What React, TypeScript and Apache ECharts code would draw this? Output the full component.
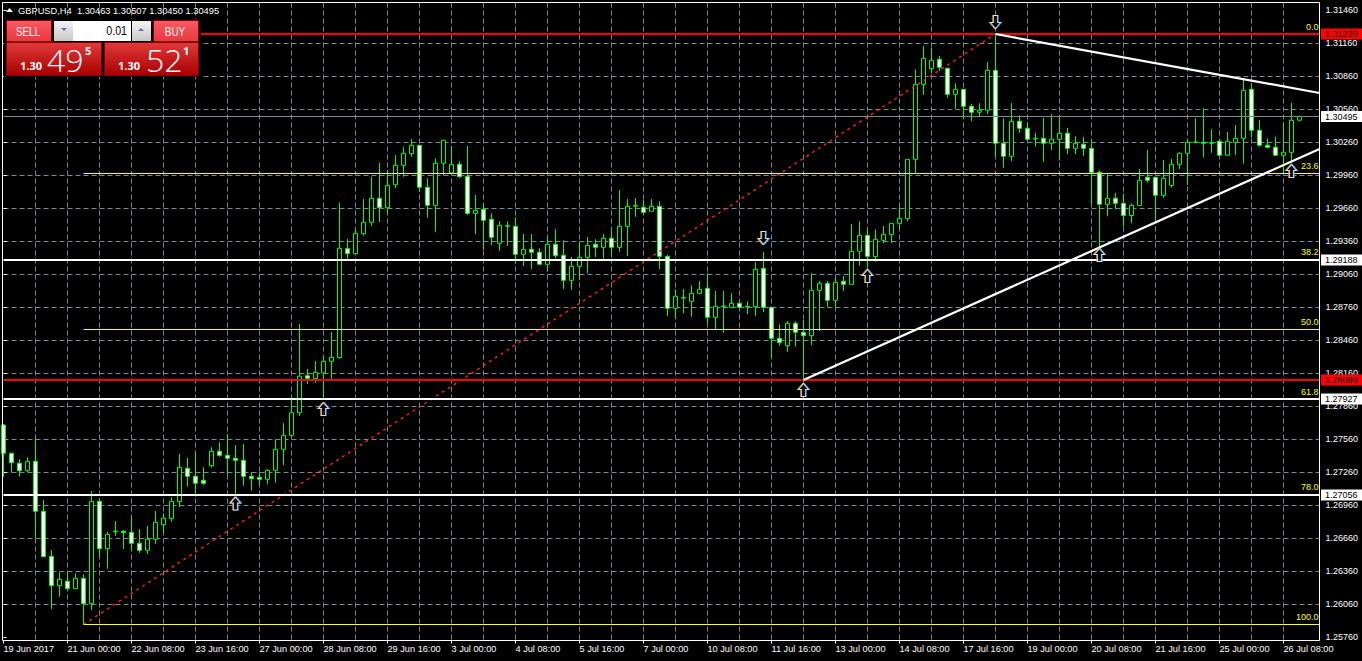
import React, { useEffect, useRef } from "react";
import * as echarts from "echarts";

// H4 candles, GBPUSD, oldest first
const opens = [
  1.27692,1.27435,1.27344,1.27276,1.27362,1.26907,1.26498,1.26231,1.26271,1.26204,
  1.26298,1.26067,1.26998,1.26567,1.26722,1.26725,1.26716,1.26616,1.26553,1.26653,
  1.26785,1.26840,1.26995,1.27298,1.27225,1.27189,1.27322,1.27453,1.27416,1.27389,
  1.27371,1.27225,1.27216,1.27198,1.27280,1.27471,1.27598,1.27804,1.28140,1.28113,
  1.28165,1.28271,1.28304,1.29295,1.29249,1.29431,1.29535,1.29753,1.29667,1.29876,
  1.30053,1.30158,1.30235,1.29853,1.29689,1.30071,1.29983,1.30062,1.29953,1.29616,
  1.29653,1.29562,1.29344,1.29498,1.29498,1.29244,1.29289,1.29262,1.29153,1.29335,
  1.29235,1.29007,1.29135,1.29216,1.29335,1.29307,1.29389,1.29307,1.29498,1.29682,
  1.29671,1.29635,1.29680,1.29225,1.28753,1.28846,1.28816,1.28889,1.28935,1.28671,
  1.28768,1.28762,1.28798,1.28764,1.28767,1.29116,1.28762,1.28480,1.28413,1.28616,
  1.28535,1.28504,1.28916,1.28980,1.28825,1.28998,1.28971,1.29271,1.29416,1.29222,
  1.29371,1.29425,1.29525,1.29567,1.30107,1.30789,1.30931,1.31016,1.30935,1.30698,
  1.30744,1.30589,1.30535,1.30553,1.30916,1.30253,1.30135,1.30453,1.30389,1.30292,
  1.30298,1.30253,1.30289,1.30344,1.30207,1.30244,1.30207,1.29989,1.29698,1.29753,
  1.29707,1.29596,1.29687,1.29944,1.29944,1.29780,1.29871,1.30062,1.30162,1.30259,
  1.30262,1.30252,1.30271,1.30144,1.30262,1.30298,1.30744,1.30371,1.30235,1.30216,
  1.30144,1.30171,1.30463,
];
const closes = [
  1.27435,1.27349,1.27276,1.27362,1.26907,1.26495,1.26231,1.26289,1.26204,1.26298,
  1.26067,1.26998,1.26567,1.26698,1.26728,1.26713,1.26616,1.26553,1.26653,1.26807,
  1.26844,1.26998,1.27307,1.27225,1.27162,1.27162,1.27453,1.27416,1.27389,1.27371,
  1.27225,1.27204,1.27198,1.27280,1.27471,1.27598,1.27804,1.28135,1.28116,1.28171,
  1.28271,1.28307,1.29298,1.29249,1.29435,1.29535,1.29753,1.29667,1.29871,1.30053,
  1.30162,1.30235,1.29853,1.29689,1.30071,1.30280,1.30062,1.29949,1.29616,1.29644,
  1.29553,1.29398,1.29507,1.29504,1.29244,1.29289,1.29262,1.29153,1.29335,1.29231,
  1.29007,1.29135,1.29216,1.29325,1.29307,1.29389,1.29307,1.29498,1.29680,1.29688,
  1.29625,1.29680,1.29225,1.28753,1.28862,1.28852,1.28889,1.28925,1.28671,1.28771,
  1.28774,1.28798,1.28762,1.28770,1.29107,1.28762,1.28480,1.28440,1.28616,1.28535,
  1.28504,1.28916,1.28980,1.28825,1.28989,1.28971,1.29271,1.29416,1.29225,1.29380,
  1.29425,1.29525,1.29571,1.30107,1.30789,1.31025,1.31007,1.30944,1.30698,1.30744,
  1.30589,1.30535,1.30553,1.30916,1.30253,1.30135,1.30453,1.30389,1.30289,1.30298,
  1.30253,1.30289,1.30344,1.30207,1.30253,1.30207,1.29989,1.29698,1.29753,1.29707,
  1.29596,1.29689,1.29916,1.29916,1.29780,1.29935,1.30062,1.30162,1.30262,1.30265,
  1.30253,1.30258,1.30144,1.30271,1.30298,1.30735,1.30371,1.30235,1.30216,1.30144,
  1.30171,1.30462,1.30495,
];
const lows = [
  1.27219,1.27258,1.27222,1.27265,1.26662,1.26489,1.26019,1.26131,1.26201,1.26201,
  1.25876,1.26010,1.26495,1.26385,1.26683,1.26565,1.26546,1.26531,1.26519,1.26610,
  1.26707,1.26813,1.26944,1.27131,1.27040,1.27146,1.27304,1.27404,1.27244,1.27065,
  1.27140,1.27095,1.27153,1.27153,1.27167,1.27328,1.27592,1.27774,1.28065,1.28076,
  1.27919,1.28110,1.28292,1.29201,1.29246,1.29413,1.29501,1.29537,1.29610,1.29846,
  1.29949,1.30131,1.29810,1.29576,1.29449,1.29962,1.29983,1.29940,1.29601,1.29428,
  1.29283,1.29328,1.29274,1.29319,1.29162,1.29137,1.29110,1.29146,1.29089,1.29207,
  1.28928,1.28919,1.29010,1.29071,1.29216,1.29198,1.29216,1.29267,1.29228,1.29585,
  1.29604,1.29635,1.29110,1.28683,1.28655,1.28707,1.28676,1.28880,1.28616,1.28562,
  1.28531,1.28762,1.28762,1.28701,1.28683,1.28719,1.28295,1.28413,1.28358,1.28404,
  1.28101,1.28419,1.28546,1.28762,1.28762,1.28910,1.28971,1.29140,1.29116,1.29176,
  1.29344,1.29344,1.29471,1.29546,1.29980,1.30692,1.30889,1.30910,1.30667,1.30565,
  1.30480,1.30455,1.30495,1.30519,1.30137,1.30031,1.30092,1.30349,1.30289,1.30222,
  1.30085,1.30192,1.30098,1.30155,1.30155,1.30137,1.29701,1.29301,1.29592,1.29655,
  1.29498,1.29525,1.29687,1.29895,1.29555,1.29758,1.29849,1.30019,1.29874,1.30262,
  1.30122,1.30167,1.30137,1.30144,1.30144,1.30067,1.30304,1.30222,1.30207,1.30137,
  1.29980,1.30071,1.30450,
];
const highs = [
  1.27701,1.27437,1.27380,1.27398,1.27571,1.27010,1.26555,1.26358,1.26353,1.26344,
  1.26335,1.27092,1.27025,1.26719,1.26819,1.26737,1.26865,1.26746,1.26774,1.26910,
  1.26889,1.27035,1.27428,1.27392,1.27444,1.27307,1.27489,1.27535,1.27607,1.27510,
  1.27519,1.27262,1.27262,1.27289,1.27562,1.27707,1.27949,1.28610,1.28201,1.28274,
  1.28316,1.28537,1.29716,1.29383,1.29465,1.29746,1.29949,1.30074,1.30010,1.30146,
  1.30222,1.30292,1.30237,1.29935,1.30116,1.30283,1.30228,1.30089,1.30228,1.29783,
  1.29701,1.29616,1.29546,1.29546,1.29580,1.29428,1.29428,1.29298,1.29398,1.29474,
  1.29371,1.29219,1.29358,1.29401,1.29380,1.29428,1.29465,1.29828,1.29746,1.29755,
  1.29737,1.29746,1.29725,1.29237,1.28925,1.28928,1.28962,1.29001,1.29071,1.28910,
  1.28910,1.28892,1.28810,1.28816,1.29171,1.29265,1.28762,1.28607,1.28637,1.28635,
  1.28646,1.29071,1.29001,1.29001,1.29025,1.29046,1.29519,1.29544,1.29480,1.29471,
  1.29501,1.29525,1.29671,1.30107,1.30925,1.31137,1.31119,1.31046,1.30937,1.30798,
  1.30746,1.30610,1.30616,1.30992,1.31239,1.30480,1.30619,1.30507,1.30444,1.30349,
  1.30483,1.30519,1.30498,1.30392,1.30316,1.30310,1.30289,1.30007,1.29980,1.29801,
  1.29796,1.29705,1.30019,1.30192,1.29944,1.30101,1.30110,1.30171,1.30289,1.30480,
  1.30571,1.30380,1.30283,1.30355,1.30419,1.30828,1.30783,1.30465,1.30298,1.30313,
  1.30444,1.30619,1.30507,
];

const xLabels = [
  "19 Jun 2017","21 Jun 00:00","22 Jun 08:00","23 Jun 16:00","27 Jun 00:00","28 Jun 08:00","29 Jun 16:00",
  "3 Jul 00:00","4 Jul 08:00","5 Jul 16:00","7 Jul 00:00","10 Jul 08:00","11 Jul 16:00","13 Jul 00:00",
  "14 Jul 08:00","17 Jul 16:00","19 Jul 00:00","20 Jul 08:00","21 Jul 16:00","25 Jul 00:00","26 Jul 08:00",
];
const xLabelPositions = xLabels.map((_, i) => i * 8);
const xGridPositions = Array.from({ length: 42 }, (_, i) => i * 4);

const yTicks = [
  1.2576,1.2606,1.2636,1.2666,1.2696,1.2726,1.2756,1.2786,1.2816,1.2846,
  1.2876,1.2906,1.2936,1.2966,1.2996,1.3026,1.3056,1.3086,1.3116,1.3146,
];

const upArrows = [[29,1.26978],[40,1.27837],[100,1.2801],[108,1.29046],[137,1.29237],[161,1.30001]];
const downArrows = [[95,1.29392],[124,1.31355]];

const fibLow = [10, 1.25878];
const swingHigh = [124, 1.31246];
const fibLevels = [
  { name: "0.0", price: 1.31246 },
  { name: "23.6", price: 1.29978 },
  { name: "38.2", price: 1.29192 },
  { name: "50.0", price: 1.2856 },
  { name: "61.8", price: 1.27928 },
  { name: "78.0", price: 1.27056 },
  { name: "100.0", price: 1.25878 },
];
const horizontalLines = [
  { label: "1.31239", price: 1.31246, color: "#ff0000", width: 2, box: "#ff0000" },
  { label: "1.30495", price: 1.30496, color: "#778899", width: 1, box: "#ffffff" },
  { label: "1.29188", price: 1.29192, color: "#ffffff", width: 2, box: "#ffffff" },
  { label: "1.28099", price: 1.28101, color: "#ff0000", width: 2, box: "#ff0000" },
  { label: "1.27927", price: 1.27928, color: "#ffffff", width: 2, box: "#ffffff" },
  { label: "1.27056", price: 1.27056, color: "#ffffff", width: 2, box: "#ffffff" },
];
const upperTrend = [[124, 1.31246], [164.5, 1.3071]];
const lowerTrend = [[100, 1.28101], [164.5, 1.30201]];

const X_MAX = 164.5;
const ARROW = "path://M5 0 L10 6 L7 6 L7 13 L3 13 L3 6 L0 6 Z";
const FONT = '"Liberation Sans", sans-serif';
const PANEL_FONT = '"Open Sans", "Noto Sans", sans-serif';

function grad(a: string, b: string) {
  return new echarts.graphic.LinearGradient(0, 0, 0, 1, [
    { offset: 0, color: a },
    { offset: 1, color: b },
  ]);
}

function panelGraphics() {
  const rect = (x: number, y: number, w: number, h: number, fill: any, stroke?: string) => ({
    type: "rect", shape: { x, y, width: w, height: h }, z: 100,
    style: { fill, stroke: stroke || "none", lineWidth: stroke ? 1 : 0 },
  });
  const text = (x: number, y: number, t: string, font: string, fill = "#fff", align = "left", scaleX = 1) => ({
    type: "text", x, y, z: 101, scaleX,
    style: { text: t, font, fill, textAlign: align, textVerticalAlign: "middle" },
  });
  return [
    // frame
    { type: "rect", shape: { x: 2.5, y: 2.5, width: 1317, height: 638 }, z: 90, silent: true,
      style: { fill: "none", stroke: "#fff", lineWidth: 1 } },
    // header
    { type: "polygon", z: 101, shape: { points: [[6, 12], [13, 12], [9.5, 8]] }, style: { fill: "#fff" } },
    text(18, 10.5, "GBPUSD,H4  1.30463 1.30507 1.30450 1.30495", `9.3px ${FONT}`, "#fff"),
    // panel background
    rect(4, 19, 197, 58, "#000"),
    rect(6.5, 20.5, 45, 21, grad("#fb5a60", "#e23a40"), "#8c0000"),
    rect(153.5, 20.5, 45, 21, grad("#fb5a60", "#e23a40"), "#8c0000"),
    rect(6.5, 42.5, 95, 33, grad("#e03a3a", "#a80000"), "#8c0000"),
    rect(104.5, 42.5, 94, 33, grad("#e03a3a", "#a80000"), "#8c0000"),
    rect(10, 41, 38, 1, "#9c1010"),
    rect(157, 41, 38, 1, "#9c1010"),
    rect(54, 21, 19, 20, grad("#f4f4f4", "#c8c8c8")),
    rect(73, 21, 58, 20, "#ffffff"),
    rect(132, 21, 19, 20, grad("#f4f4f4", "#c8c8c8")),
    { type: "polygon", z: 101, shape: { points: [[61, 28], [67, 28], [64, 31]] }, style: { fill: "#6070b0" } },
    { type: "polygon", z: 101, shape: { points: [[138, 31], [144, 31], [141, 28]] }, style: { fill: "#6070b0" } },
    text(28, 31, "SELL", `13px ${FONT}`, "#fff", "center", 0.76),
    text(175, 31, "BUY", `13px ${FONT}`, "#fff", "center", 0.76),
    text(127, 30.5, "0.01", `12.5px ${FONT}`, "#000", "right", 0.85),
    text(20, 65, "1.30", `bold 11px ${PANEL_FONT}`),
    text(47, 59, "49", `300 32px ${PANEL_FONT}`),
    text(85, 50, "5", `bold 11px ${PANEL_FONT}`),
    text(118, 65, "1.30", `bold 11px ${PANEL_FONT}`),
    text(146, 59, "52", `300 32px ${PANEL_FONT}`),
    text(183, 50, "1", `bold 11px ${PANEL_FONT}`),
  ];
}

function arrowSeries(data: number[][], rotate: number) {
  const layer = (color: string, offset: number[], z: number, border: number) => ({
    type: "scatter", data, symbol: ARROW, symbolSize: [10, 13], symbolRotate: rotate, symbolOffset: offset,
    z, silent: true,
    itemStyle: { color: "rgba(0,0,0,0)", borderColor: color, borderWidth: border },
  });
  return [
    layer("#e8a050", [-1, 0], 7, 1),
    layer("#3399ff", [1, 0], 7, 1),
    { ...layer("#ffffff", [0, 0], 8, 1), itemStyle: { color: "#000", borderColor: "#fff", borderWidth: 1 } },
  ];
}

export default function App() {
  const ref = useRef<HTMLDivElement>(null);
  useEffect(() => {
    document.body.style.margin = "0";
    document.body.style.background = "#000";
    const chart = echarts.init(ref.current!, undefined, { renderer: "svg" });
    const candles = opens.map((o, i) => [i, o, closes[i], lows[i], highs[i]]);
    const option: any = {
      animation: false,
      backgroundColor: "#000",
      grid: { left: 3.5, top: 2.5, width: 1316, height: 638, containLabel: false },
      xAxis: [
        {
          type: "value", min: 0, max: X_MAX, containShape: false,
          axisLine: { show: false },
          axisTick: { show: false, customValues: xGridPositions },
          axisLabel: { show: false },
          splitLine: { show: true, showMinLine: false, showMaxLine: false, lineStyle: { color: "#778899", width: 1, type: [5, 3] } },
        },
        {
          type: "value", min: 0, max: X_MAX, position: "bottom",
          axisLine: { show: false },
          axisTick: { show: true, customValues: xLabelPositions, length: 3, lineStyle: { color: "#fff" } },
          axisLabel: {
            show: true, customValues: xLabelPositions, align: "left", margin: 4, color: "#fff",
            fontFamily: FONT, fontSize: 9.2,
            formatter: (v: number) => xLabels[Math.round(v / 8)] ?? "",
          },
          splitLine: { show: false },
        },
      ],
      yAxis: {
        type: "value", position: "right", min: 1.257327, max: 1.315327, scale: true,
        axisLine: { show: false },
        axisTick: { show: true, customValues: yTicks, length: 3, lineStyle: { color: "#fff" } },
        axisLabel: {
          show: true, customValues: yTicks, margin: 6, color: "#fff", fontFamily: FONT, fontSize: 9,
          formatter: (v: number) => v.toFixed(5),
        },
        splitLine: { show: true, showMinLine: false, showMaxLine: false, lineStyle: { color: "#778899", width: 1, type: [5, 3] } },
      },
      graphic: panelGraphics(),
      series: [
        {
          type: "candlestick", data: candles, barWidth: 4, xAxisIndex: 0, yAxisIndex: 0, z: 3,
          encode: { x: 0, y: [1, 2, 3, 4] },
          itemStyle: { color: "#000", color0: "#fff", borderColor: "#00ff00", borderColor0: "#00ff00", borderWidth: 1 },
        },
        {
          type: "line", data: [fibLow, swingHigh], symbol: "none", z: 4, silent: true,
          lineStyle: { color: "#ff2020", width: 1.4, type: [3, 4] },
        },
        {
          type: "line", data: upperTrend, symbol: "none", z: 6, silent: true,
          lineStyle: { color: "#fff", width: 2.2 },
        },
        {
          type: "line", data: lowerTrend, symbol: "none", z: 6, silent: true,
          lineStyle: { color: "#fff", width: 2.2 },
        },
        {
          type: "line", data: [], z: 5, silent: true,
          markLine: {
            silent: true, symbol: "none", animation: false,
            data: fibLevels.map((l) => [
              { coord: [fibLow[0], l.price],
                lineStyle: { color: "#ffff00", width: 1, type: "solid" },
                label: { show: true, position: "insideEndTop", formatter: l.name, color: "#ffff00", fontFamily: FONT, fontSize: 9, distance: [1, 3] } },
              { coord: [X_MAX, l.price] },
            ]),
          },
        },
        {
          type: "line", data: [], z: 6, silent: true,
          markLine: {
            silent: true, symbol: "none", animation: false,
            data: horizontalLines.map((l) => [
              {
                coord: [0, l.price],
                lineStyle: { color: l.color, width: l.width, type: "solid" },
                label: {
                  show: true, position: "end", distance: 1.5,
                  formatter: l.label, color: "#000", backgroundColor: l.box,
                  fontFamily: FONT, fontSize: 9, padding: [1, 4.5, 0, 4], lineHeight: 10,
                },
              },
              { coord: [X_MAX, l.price] },
            ]),
          },
        },
        ...arrowSeries(upArrows, 0),
        ...arrowSeries(downArrows, 180),
      ],
    };
    chart.setOption(option);
    return () => chart.dispose();
  }, []);
  return <div ref={ref} style={{ width: 1362, height: 661 }} />;
}
